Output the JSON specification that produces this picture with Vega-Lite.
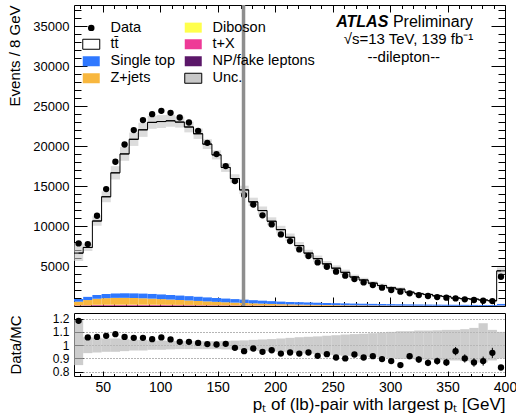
{
  "$schema": "https://vega.github.io/schema/vega-lite/v6.json",
  "background": "white",
  "padding": {"left": 7, "top": 2, "right": 0, "bottom": 0},
  "config": {
    "view": {"stroke": "black", "strokeWidth": 1},
    "font": "Liberation Sans",
    "axis": {"domain": false, "grid": false, "tickColor": "black", "tickWidth": 1, "labelFont": "Liberation Sans", "titleFont": "Liberation Sans", "labelColor": "black", "titleColor": "black", "titleFontWeight": "normal", "labelFlush": false, "labelOverlap": false}
  },
  "datasets": {
    "h": [
      {"lo":25,"hi":33,"c":29,"d":7830,"mc":6619,"mlo":5626,"mhi":7877,"r":1.183,"rlo":0.85,"rhi":1.19,"e":0.013,"Z+jets":450,"Single top":330,"Diboson":20,"t+X":43,"NP/fake leptons":31},
      {"lo":33,"hi":41,"c":37,"d":7750,"mc":7325,"mlo":6886,"mhi":7765,"r":1.058,"rlo":0.94,"rhi":1.06,"e":0.012,"Z+jets":620,"Single top":400,"Diboson":26,"t+X":56,"NP/fake leptons":41},
      {"lo":41,"hi":49,"c":45,"d":11290,"mc":10631,"mlo":10046,"mhi":11216,"r":1.062,"rlo":0.945,"rhi":1.055,"e":0.01,"Z+jets":750,"Single top":470,"Diboson":30,"t+X":67,"NP/fake leptons":49},
      {"lo":49,"hi":57,"c":53,"d":14620,"mc":13664,"mlo":12981,"mhi":14347,"r":1.07,"rlo":0.95,"rhi":1.05,"e":0.009,"Z+jets":820,"Single top":520,"Diboson":34,"t+X":74,"NP/fake leptons":54},
      {"lo":57,"hi":65,"c":61,"d":18040,"mc":16657,"mlo":15824,"mhi":17490,"r":1.083,"rlo":0.95,"rhi":1.05,"e":0.008,"Z+jets":850,"Single top":550,"Diboson":35,"t+X":77,"NP/fake leptons":56},
      {"lo":65,"hi":73,"c":69,"d":20200,"mc":19021,"mlo":18165,"mhi":19877,"r":1.062,"rlo":0.955,"rhi":1.045,"e":0.0075,"Z+jets":850,"Single top":570,"Diboson":35,"t+X":78,"NP/fake leptons":57},
      {"lo":73,"hi":81,"c":77,"d":22000,"mc":20853,"mlo":20019,"mhi":21687,"r":1.055,"rlo":0.96,"rhi":1.04,"e":0.007,"Z+jets":830,"Single top":580,"Diboson":35,"t+X":78,"NP/fake leptons":56},
      {"lo":81,"hi":89,"c":85,"d":23250,"mc":22038,"mlo":21156,"mhi":22920,"r":1.055,"rlo":0.96,"rhi":1.04,"e":0.007,"Z+jets":800,"Single top":585,"Diboson":35,"t+X":76,"NP/fake leptons":55},
      {"lo":89,"hi":97,"c":93,"d":24000,"mc":22967,"mlo":22163,"mhi":23771,"r":1.045,"rlo":0.965,"rhi":1.035,"e":0.007,"Z+jets":760,"Single top":585,"Diboson":34,"t+X":74,"NP/fake leptons":54},
      {"lo":97,"hi":105,"c":101,"d":24410,"mc":23072,"mlo":22265,"mhi":23880,"r":1.058,"rlo":0.965,"rhi":1.035,"e":0.007,"Z+jets":710,"Single top":580,"Diboson":32,"t+X":71,"NP/fake leptons":52},
      {"lo":105,"hi":113,"c":109,"d":24160,"mc":23164,"mlo":22423,"mhi":23905,"r":1.043,"rlo":0.968,"rhi":1.032,"e":0.007,"Z+jets":660,"Single top":570,"Diboson":31,"t+X":68,"NP/fake leptons":49},
      {"lo":113,"hi":121,"c":117,"d":23580,"mc":23005,"mlo":22315,"mhi":23695,"r":1.025,"rlo":0.97,"rhi":1.03,"e":0.007,"Z+jets":610,"Single top":555,"Diboson":29,"t+X":64,"NP/fake leptons":47},
      {"lo":121,"hi":129,"c":125,"d":22950,"mc":22390,"mlo":21718,"mhi":23062,"r":1.025,"rlo":0.97,"rhi":1.03,"e":0.007,"Z+jets":560,"Single top":540,"Diboson":28,"t+X":61,"NP/fake leptons":44},
      {"lo":129,"hi":137,"c":133,"d":21910,"mc":21544,"mlo":20898,"mhi":22190,"r":1.017,"rlo":0.97,"rhi":1.03,"e":0.007,"Z+jets":510,"Single top":520,"Diboson":26,"t+X":57,"NP/fake leptons":41},
      {"lo":137,"hi":145,"c":141,"d":20410,"mc":20248,"mlo":19641,"mhi":20855,"r":1.008,"rlo":0.97,"rhi":1.03,"e":0.007,"Z+jets":460,"Single top":500,"Diboson":24,"t+X":53,"NP/fake leptons":38},
      {"lo":145,"hi":153,"c":149,"d":19000,"mc":18905,"mlo":18338,"mhi":19472,"r":1.005,"rlo":0.97,"rhi":1.03,"e":0.007,"Z+jets":415,"Single top":480,"Diboson":22,"t+X":49,"NP/fake leptons":36},
      {"lo":153,"hi":161,"c":157,"d":17500,"mc":17327,"mlo":16773,"mhi":17881,"r":1.01,"rlo":0.968,"rhi":1.032,"e":0.008,"Z+jets":370,"Single top":460,"Diboson":21,"t+X":46,"NP/fake leptons":33},
      {"lo":161,"hi":169,"c":165,"d":15620,"mc":15939,"mlo":15397,"mhi":16481,"r":0.98,"rlo":0.966,"rhi":1.034,"e":0.008,"Z+jets":330,"Single top":440,"Diboson":19,"t+X":42,"NP/fake leptons":31},
      {"lo":169,"hi":177,"c":173,"d":13870,"mc":14524,"mlo":14001,"mhi":15047,"r":0.955,"rlo":0.964,"rhi":1.036,"e":0.008,"Z+jets":290,"Single top":420,"Diboson":18,"t+X":39,"NP/fake leptons":28},
      {"lo":177,"hi":185,"c":181,"d":12700,"mc":13026,"mlo":12505,"mhi":13547,"r":0.975,"rlo":0.96,"rhi":1.04,"e":0.009,"Z+jets":255,"Single top":395,"Diboson":16,"t+X":36,"NP/fake leptons":26},
      {"lo":185,"hi":193,"c":189,"d":11340,"mc":11937,"mlo":11424,"mhi":12450,"r":0.95,"rlo":0.957,"rhi":1.043,"e":0.009,"Z+jets":225,"Single top":370,"Diboson":15,"t+X":33,"NP/fake leptons":24},
      {"lo":193,"hi":201,"c":197,"d":10200,"mc":10603,"mlo":10115,"mhi":11091,"r":0.962,"rlo":0.954,"rhi":1.046,"e":0.0095,"Z+jets":195,"Single top":345,"Diboson":14,"t+X":30,"NP/fake leptons":22},
      {"lo":201,"hi":209,"c":205,"d":8950,"mc":9552,"mlo":9074,"mhi":10030,"r":0.937,"rlo":0.95,"rhi":1.05,"e":0.01,"Z+jets":170,"Single top":320,"Diboson":12,"t+X":27,"NP/fake leptons":20},
      {"lo":209,"hi":217,"c":213,"d":8120,"mc":8593,"mlo":8120,"mhi":9066,"r":0.945,"rlo":0.945,"rhi":1.055,"e":0.0105,"Z+jets":150,"Single top":300,"Diboson":11,"t+X":25,"NP/fake leptons":18},
      {"lo":217,"hi":225,"c":221,"d":7080,"mc":7556,"mlo":7103,"mhi":8009,"r":0.937,"rlo":0.94,"rhi":1.06,"e":0.011,"Z+jets":130,"Single top":300,"Diboson":10,"t+X":23,"NP/fake leptons":16},
      {"lo":225,"hi":233,"c":229,"d":6250,"mc":6614,"mlo":6197,"mhi":7031,"r":0.945,"rlo":0.937,"rhi":1.063,"e":0.012,"Z+jets":115,"Single top":285,"Diboson":9,"t+X":21,"NP/fake leptons":15},
      {"lo":233,"hi":241,"c":237,"d":5450,"mc":5924,"mlo":5533,"mhi":6315,"r":0.92,"rlo":0.934,"rhi":1.066,"e":0.0125,"Z+jets":100,"Single top":270,"Diboson":9,"t+X":19,"NP/fake leptons":14},
      {"lo":241,"hi":249,"c":245,"d":4910,"mc":5268,"mlo":4899,"mhi":5637,"r":0.932,"rlo":0.93,"rhi":1.07,"e":0.013,"Z+jets":88,"Single top":255,"Diboson":8,"t+X":17,"NP/fake leptons":12},
      {"lo":249,"hi":257,"c":253,"d":4290,"mc":4730,"mlo":4375,"mhi":5085,"r":0.907,"rlo":0.925,"rhi":1.075,"e":0.014,"Z+jets":77,"Single top":240,"Diboson":7,"t+X":16,"NP/fake leptons":11},
      {"lo":257,"hi":265,"c":261,"d":3790,"mc":4211,"mlo":3874,"mhi":4548,"r":0.9,"rlo":0.92,"rhi":1.08,"e":0.015,"Z+jets":68,"Single top":228,"Diboson":6,"t+X":14,"NP/fake leptons":10},
      {"lo":265,"hi":273,"c":269,"d":3370,"mc":3624,"mlo":3323,"mhi":3925,"r":0.93,"rlo":0.917,"rhi":1.083,"e":0.016,"Z+jets":60,"Single top":216,"Diboson":6,"t+X":13,"NP/fake leptons":9},
      {"lo":273,"hi":281,"c":277,"d":2950,"mc":3252,"mlo":2972,"mhi":3532,"r":0.907,"rlo":0.914,"rhi":1.086,"e":0.017,"Z+jets":53,"Single top":205,"Diboson":5,"t+X":12,"NP/fake leptons":9},
      {"lo":281,"hi":289,"c":285,"d":2620,"mc":2857,"mlo":2600,"mhi":3114,"r":0.917,"rlo":0.91,"rhi":1.09,"e":0.018,"Z+jets":47,"Single top":195,"Diboson":5,"t+X":11,"NP/fake leptons":8},
      {"lo":289,"hi":297,"c":293,"d":2290,"mc":2559,"mlo":2316,"mhi":2802,"r":0.895,"rlo":0.905,"rhi":1.095,"e":0.019,"Z+jets":42,"Single top":185,"Diboson":5,"t+X":10,"NP/fake leptons":7},
      {"lo":297,"hi":305,"c":301,"d":2000,"mc":2273,"mlo":2046,"mhi":2500,"r":0.88,"rlo":0.9,"rhi":1.1,"e":0.02,"Z+jets":37,"Single top":176,"Diboson":4,"t+X":9,"NP/fake leptons":7},
      {"lo":305,"hi":313,"c":309,"d":1790,"mc":2106,"mlo":1885,"mhi":2327,"r":0.85,"rlo":0.895,"rhi":1.105,"e":0.02,"Z+jets":33,"Single top":168,"Diboson":4,"t+X":8,"NP/fake leptons":6},
      {"lo":313,"hi":321,"c":317,"d":1580,"mc":1723,"mlo":1542,"mhi":1904,"r":0.917,"rlo":0.895,"rhi":1.105,"e":0.023,"Z+jets":29,"Single top":160,"Diboson":3,"t+X":8,"NP/fake leptons":6},
      {"lo":321,"hi":329,"c":325,"d":1370,"mc":1536,"mlo":1367,"mhi":1705,"r":0.892,"rlo":0.89,"rhi":1.11,"e":0.024,"Z+jets":26,"Single top":152,"Diboson":3,"t+X":7,"NP/fake leptons":5},
      {"lo":329,"hi":337,"c":333,"d":1250,"mc":1442,"mlo":1283,"mhi":1601,"r":0.867,"rlo":0.89,"rhi":1.11,"e":0.025,"Z+jets":23,"Single top":145,"Diboson":3,"t+X":6,"NP/fake leptons":5},
      {"lo":337,"hi":345,"c":341,"d":1120,"mc":1273,"mlo":1130,"mhi":1416,"r":0.88,"rlo":0.888,"rhi":1.112,"e":0.026,"Z+jets":21,"Single top":138,"Diboson":3,"t+X":6,"NP/fake leptons":4},
      {"lo":345,"hi":353,"c":349,"d":1040,"mc":1195,"mlo":1058,"mhi":1332,"r":0.87,"rlo":0.885,"rhi":1.115,"e":0.027,"Z+jets":19,"Single top":132,"Diboson":2,"t+X":5,"NP/fake leptons":4},
      {"lo":353,"hi":361,"c":357,"d":950,"mc":995,"mlo":881,"mhi":1109,"r":0.955,"rlo":0.885,"rhi":1.115,"e":0.031,"Z+jets":17,"Single top":126,"Diboson":2,"t+X":5,"NP/fake leptons":4},
      {"lo":361,"hi":369,"c":365,"d":830,"mc":922,"mlo":811,"mhi":1033,"r":0.9,"rlo":0.88,"rhi":1.12,"e":0.031,"Z+jets":15,"Single top":120,"Diboson":2,"t+X":5,"NP/fake leptons":3},
      {"lo":369,"hi":377,"c":373,"d":750,"mc":862,"mlo":750,"mhi":974,"r":0.87,"rlo":0.87,"rhi":1.13,"e":0.032,"Z+jets":13,"Single top":115,"Diboson":2,"t+X":4,"NP/fake leptons":3},
      {"lo":377,"hi":385,"c":381,"d":660,"mc":750,"mlo":653,"mhi":874,"r":0.88,"rlo":0.87,"rhi":1.165,"e":0.034,"Z+jets":12,"Single top":110,"Diboson":2,"t+X":4,"NP/fake leptons":3},
      {"lo":385,"hi":393,"c":389,"d":620,"mc":658,"mlo":582,"mhi":734,"r":0.942,"rlo":0.885,"rhi":1.115,"e":0.038,"Z+jets":11,"Single top":105,"Diboson":2,"t+X":4,"NP/fake leptons":3},
      {"lo":393,"hi":400,"c":396.5,"d":3660,"mc":4399,"mlo":3959,"mhi":4839,"r":0.832,"rlo":0.9,"rhi":1.1,"e":0.014,"Z+jets":30,"Single top":200,"Diboson":6,"t+X":13,"NP/fake leptons":9}
    ]
  },
  "spacing": 3,
  "resolve": {"scale": {"color": "independent"}},
  "vconcat": [
    {
      "width": 431,
      "height": 301,
      "data": {"name": "h"},
      "resolve": {"axis": {"x": "independent", "y": "independent"}},
      "layer": [
        {
          "transform": [
            {"fold": ["NP/fake leptons", "t+X", "Diboson", "Z+jets", "Single top"], "as": ["proc", "v"]},
            {"stack": "v", "groupby": ["lo"], "as": ["s0", "s1"]}
          ],
          "mark": {"type": "rect"},
          "encoding": {
            "x": {"field": "lo", "type": "quantitative", "scale": {"domain": [25, 400], "nice": false, "zero": false}, "axis": null},
            "x2": {"field": "hi"},
            "y": {"field": "s0", "type": "quantitative", "scale": {"domain": [0, 37650], "nice": false, "zero": false},
                  "axis": {"orient": "left", "values": [5000, 10000, 15000, 20000, 25000, 30000, 35000], "format": "d", "ticks": false, "labelFontSize": 13, "labelPadding": 5, "title": "Events / 8 GeV", "titleFontSize": 15, "titleAnchor": "end", "titlePadding": 10}},
            "y2": {"field": "s1"},
            "color": {
              "field": "proc", "type": "nominal",
              "scale": {"domain": ["Data", "tt\u0304", "Single top", "Z+jets", "Diboson", "t+X", "NP/fake leptons", "Unc."],
                        "range": ["#000000", "#ffffff", "#2f78ff", "#f8b73e", "#ffff4c", "#ee3a97", "#5b1769", "#c8c8c8"]},
              "legend": {
                "orient": "none", "legendX": 10, "legendY": 15, "padding": 0, "columns": 2, "columnPadding": 7, "rowPadding": 1,
                "title": null, "labelFont": "Liberation Sans", "labelFontSize": 14.5, "labelColor": "black", "labelOffset": 12, "labelLimit": 250,
                "symbolSize": 100, "symbolStrokeWidth": 1, "symbolOpacity": 1,
                "encode": {"symbols": {"update": {
                  "shape": {"signal": "datum.value === 'Data' ? 'circle' : 'M-1.7,-1H1.7V1H-1.7Z'"},
                  "size": {"signal": "datum.value === 'Data' ? 42 : 100"},
                  "stroke": {"signal": "(datum.value === 'tt\u0304' || datum.value === 'Unc.') ? 'black' : 'transparent'"},
                  "strokeWidth": {"value": 1}
                }}}
              }
            }
          }
        },
        {
          "mark": {"type": "rect", "fill": "#c4c4c4", "opacity": 0.6},
          "encoding": {
            "x": {"field": "lo", "type": "quantitative", "scale": {"domain": [25, 400], "nice": false, "zero": false},
                  "axis": {"orient": "bottom", "values": [50, 100, 150, 200, 250, 300, 350, 400], "labels": false, "tickSize": -9, "title": null}},
            "x2": {"field": "hi"},
            "y": {"field": "mlo", "type": "quantitative", "scale": {"domain": [0, 37650], "nice": false, "zero": false},
                  "axis": {"orient": "left", "values": [5000, 10000, 15000, 20000, 25000, 30000, 35000], "labels": false, "tickSize": -13, "title": null}},
            "y2": {"field": "mhi"}
          }
        },
        {
          "mark": {"type": "line", "interpolate": "step", "color": "black", "strokeWidth": 1},
          "encoding": {
            "x": {"field": "c", "type": "quantitative", "scale": {"domain": [25, 400], "nice": false, "zero": false},
                  "axis": {"orient": "bottom", "values": [30, 40, 60, 70, 80, 90, 110, 120, 130, 140, 160, 170, 180, 190, 210, 220, 230, 240, 260, 270, 280, 290, 310, 320, 330, 340, 360, 370, 380, 390], "labels": false, "tickSize": -4.5, "title": null}},
            "y": {"field": "mc", "type": "quantitative", "scale": {"domain": [0, 37650], "nice": false, "zero": false},
                  "axis": {"orient": "left", "values": [1000, 2000, 3000, 4000, 6000, 7000, 8000, 9000, 11000, 12000, 13000, 14000, 16000, 17000, 18000, 19000, 21000, 22000, 23000, 24000, 26000, 27000, 28000, 29000, 31000, 32000, 33000, 34000, 36000, 37000], "labels": false, "tickSize": -7, "title": null}}
          }
        },
        {
          "mark": {"type": "rule", "color": "black", "strokeWidth": 1},
          "encoding": {
            "x": {"field": "lo", "type": "quantitative", "scale": {"domain": [25, 400], "nice": false, "zero": false},
                  "axis": {"orient": "top", "values": [50, 100, 150, 200, 250, 300, 350, 400], "labels": false, "tickSize": -7, "title": null}},
            "x2": {"field": "hi"},
            "y": {"field": "mc", "type": "quantitative", "scale": {"domain": [0, 37650], "nice": false, "zero": false},
                  "axis": {"orient": "right", "values": [5000, 10000, 15000, 20000, 25000, 30000, 35000], "labels": false, "tickSize": -14, "title": null}}
          }
        },
        {
          "mark": {"type": "point", "filled": true, "color": "black", "size": 40, "opacity": 1},
          "encoding": {
            "x": {"field": "c", "type": "quantitative", "scale": {"domain": [25, 400], "nice": false, "zero": false},
                  "axis": {"orient": "top", "values": [30, 40, 60, 70, 80, 90, 110, 120, 130, 140, 160, 170, 180, 190, 210, 220, 230, 240, 260, 270, 280, 290, 310, 320, 330, 340, 360, 370, 380, 390], "labels": false, "tickSize": -3.5, "title": null}},
            "y": {"field": "d", "type": "quantitative", "scale": {"domain": [0, 37650], "nice": false, "zero": false},
                  "axis": {"orient": "right", "values": [1000, 2000, 3000, 4000, 6000, 7000, 8000, 9000, 11000, 12000, 13000, 14000, 16000, 17000, 18000, 19000, 21000, 22000, 23000, 24000, 26000, 27000, 28000, 29000, 31000, 32000, 33000, 34000, 36000, 37000], "labels": false, "tickSize": -7, "title": null}}
          }
        },
        {
          "data": {"values": [{"m": 172.5}]},
          "mark": {"type": "rule", "color": "#8e8e8e", "strokeWidth": 3.5},
          "encoding": {
            "x": {"field": "m", "type": "quantitative", "scale": {"domain": [25, 400], "nice": false, "zero": false}, "axis": null}
          }
        },
        {
          "data": {"values": [{}]},
          "mark": {"type": "text", "text": "ATLAS", "font": "Liberation Sans", "fontSize": 16, "fontWeight": "bold", "fontStyle": "italic", "align": "right", "baseline": "middle", "color": "black"},
          "encoding": {
            "x": {"datum": 298.5, "type": "quantitative", "axis": null},
            "y": {"datum": 35540, "type": "quantitative", "axis": null}
          }
        },
        {
          "data": {"values": [{}]},
          "mark": {"type": "text", "text": "Preliminary", "font": "Liberation Sans", "fontSize": 16, "align": "left", "baseline": "middle", "color": "black"},
          "encoding": {
            "x": {"datum": 302.5, "type": "quantitative", "axis": null},
            "y": {"datum": 35540, "type": "quantitative", "axis": null}
          }
        },
        {
          "data": {"values": [{}]},
          "mark": {"type": "text", "text": "\u221as=13 TeV, 139 fb\u207b\u00b9", "font": "Liberation Sans", "fontSize": 15, "align": "center", "baseline": "middle", "color": "black"},
          "encoding": {
            "x": {"datum": 316, "type": "quantitative", "axis": null},
            "y": {"datum": 33410, "type": "quantitative", "axis": null}
          }
        },
        {
          "data": {"values": [{}]},
          "mark": {"type": "text", "text": "--dilepton--", "font": "Liberation Sans", "fontSize": 15, "align": "center", "baseline": "middle", "color": "black"},
          "encoding": {
            "x": {"datum": 312, "type": "quantitative", "axis": null},
            "y": {"datum": 31160, "type": "quantitative", "axis": null}
          }
        }
      ]
    },
    {
      "width": 431,
      "height": 63,
      "data": {"name": "h"},
      "resolve": {"axis": {"x": "independent", "y": "independent"}},
      "layer": [
        {
          "mark": {"type": "rect", "fill": "#b8b8b8", "opacity": 0.7},
          "encoding": {
            "x": {"field": "lo", "type": "quantitative", "scale": {"domain": [25, 400], "nice": false, "zero": false},
                  "axis": {"orient": "bottom", "values": [50, 100, 150, 200, 250, 300, 350, 400], "format": "d", "ticks": false, "labelFontSize": 14, "labelPadding": 4,
                           "title": "p\u209c of (lb)-pair with largest p\u209c [GeV]", "titleFontSize": 17, "titleAnchor": "end", "titlePadding": 2}},
            "x2": {"field": "hi"},
            "y": {"field": "rlo", "type": "quantitative", "scale": {"domain": [0.768, 1.242], "nice": false, "zero": false},
                  "axis": {"orient": "left", "values": [0.8, 0.9, 1, 1.1, 1.2], "format": "~g", "ticks": false, "labelFontSize": 12, "labelPadding": 5,
                           "grid": true, "gridDash": [1, 2], "gridColor": "#444444", "gridWidth": 0.8,
                           "title": "Data/MC", "titleFontSize": 15, "titlePadding": 29}},
            "y2": {"field": "rhi"}
          }
        },
        {
          "mark": {"type": "errorbar", "ticks": false, "color": "black"},
          "encoding": {
            "x": {"field": "c", "type": "quantitative", "scale": {"domain": [25, 400], "nice": false, "zero": false},
                  "axis": {"orient": "bottom", "values": [30, 40, 60, 70, 80, 90, 110, 120, 130, 140, 160, 170, 180, 190, 210, 220, 230, 240, 260, 270, 280, 290, 310, 320, 330, 340, 360, 370, 380, 390], "labels": false, "tickSize": -2.5, "title": null}},
            "y": {"field": "r", "type": "quantitative", "scale": {"domain": [0.768, 1.242], "nice": false, "zero": false}, "axis": null},
            "yError": {"field": "e"}
          }
        },
        {
          "mark": {"type": "point", "filled": true, "color": "black", "size": 40, "opacity": 1},
          "encoding": {
            "x": {"field": "c", "type": "quantitative", "scale": {"domain": [25, 400], "nice": false, "zero": false},
                  "axis": {"orient": "bottom", "values": [50, 100, 150, 200, 250, 300, 350, 400], "labels": false, "tickSize": -5, "title": null}},
            "y": {"field": "r", "type": "quantitative", "scale": {"domain": [0.768, 1.242], "nice": false, "zero": false},
                  "axis": {"orient": "left", "values": [0.8, 0.9, 1, 1.1, 1.2], "labels": false, "tickSize": -9, "title": null}}
          }
        }
      ]
    }
  ]
}
